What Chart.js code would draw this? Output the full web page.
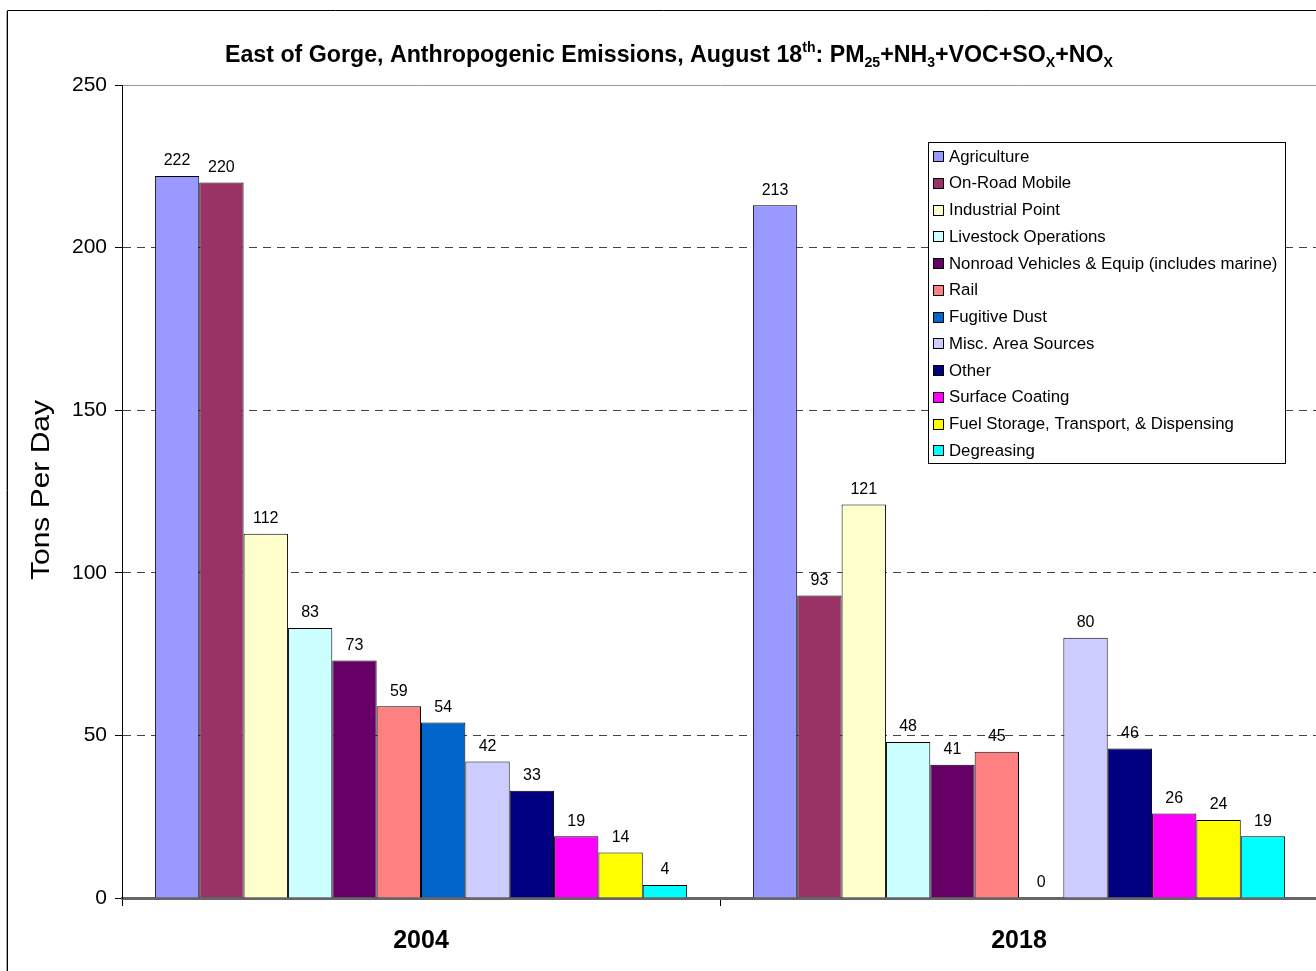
<!DOCTYPE html>
<html>
<head>
<meta charset="utf-8">
<title>East of Gorge, Anthropogenic Emissions</title>
<script src="https://cdn.jsdelivr.net/npm/chart.js@4/dist/chart.umd.min.js"></script>
<style>
  html, body { margin: 0; padding: 0; background: #fff; overflow: hidden; }
  #wrap { width: 1320px; height: 971px; position: relative; }
</style>
</head>
<body>
<div id="wrap"><canvas id="c" width="1320" height="971"></canvas></div>
<script>
// Years on the category axis
const categories = ['2004', '2018'];

// Emission source categories (one bar series each)
const sources = [
  'Agriculture',
  'On-Road Mobile',
  'Industrial Point',
  'Livestock Operations',
  'Nonroad Vehicles & Equip (includes marine)',
  'Rail',
  'Fugitive Dust',
  'Misc. Area Sources',
  'Other',
  'Surface Coating',
  'Fuel Storage, Transport, & Dispensing',
  'Degreasing'
];

// Tons per day, by source
const tons2004 = [222, 220, 112, 83, 73, 59, 54, 42, 33, 19, 14, 4];
const tons2018 = [213, 93, 121, 48, 41, 45, 0, 80, 46, 26, 24, 19];

const sourceColors = [
  '#9999FF', '#993366', '#FFFFCC', '#CCFFFF', '#660066', '#FF8080',
  '#0066CC', '#CCCCFF', '#000080', '#FF00FF', '#FFFF00', '#00FFFF'
];

const yTicks = [0, 50, 100, 150, 200, 250];
const yTitle = 'Tons Per Day';

const FONT = '"Liberation Sans", Arial, Helvetica, sans-serif';

const datasets = sources.map((name, i) => ({
  label: name,
  data: [tons2004[i], tons2018[i]],
  backgroundColor: sourceColors[i],
  borderColor: '#000',
  borderWidth: 1,
  borderSkipped: 'bottom',
  categoryPercentage: 0.89,
  barPercentage: 1.0
}));

// Frame, title (with sub/superscripts), axis title
const decorPlugin = {
  id: 'decor',
  beforeDraw(chart) {
    const ctx = chart.ctx;
    ctx.save();
    ctx.fillStyle = '#fff';
    ctx.fillRect(0, 0, chart.width, chart.height);
    ctx.strokeStyle = '#aaa';
    ctx.lineWidth = 1;
    ctx.beginPath();
    ctx.moveTo(6.5, 11); ctx.lineTo(6.5, chart.height);
    ctx.stroke();
    ctx.strokeStyle = '#000';
    ctx.beginPath();
    ctx.moveTo(7.5, chart.height); ctx.lineTo(7.5, 10.5); ctx.lineTo(chart.width, 10.5);
    ctx.stroke();
    ctx.restore();
  },
  afterDraw(chart) {
    const ctx = chart.ctx;
    ctx.save();
    // title
    const segs = [
      ['East of Gorge, Anthropogenic Emissions, August 18', 0],
      ['th', -1], [': PM', 0], ['25', 1], ['+NH', 0], ['3', 1],
      ['+VOC+SO', 0], ['X', 1], ['+NO', 0], ['X', 1]
    ];
    const big = 'bold 23px ' + FONT, small = 'bold 14px ' + FONT;
    let total = 0;
    segs.forEach(s => { ctx.font = s[1] ? small : big; total += ctx.measureText(s[0]).width; });
    const left = 225, right = 1113;
    const sx = (right - left) / total;
    ctx.translate(left, 62);
    ctx.scale(sx, 1);
    ctx.fillStyle = '#000';
    ctx.textBaseline = 'alphabetic';
    ctx.textAlign = 'left';
    let x = 0;
    segs.forEach(s => {
      ctx.font = s[1] ? small : big;
      const dy = s[1] === -1 ? -10 : (s[1] === 1 ? 5 : 0);
      ctx.fillText(s[0], x, dy);
      x += ctx.measureText(s[0]).width;
    });
    ctx.restore();

    // y axis title, rotated
    ctx.save();
    ctx.font = '25px ' + FONT;
    const w = ctx.measureText(yTitle).width;
    ctx.translate(42, 490);
    ctx.rotate(-Math.PI / 2);
    ctx.scale(180 / w, 1);
    ctx.textAlign = 'center';
    ctx.textBaseline = 'middle';
    ctx.fillStyle = '#000';
    ctx.fillText(yTitle, 0, 0);
    ctx.restore();
  }
};

// Value labels above each bar
const valueLabels = {
  id: 'valueLabels',
  afterDatasetsDraw(chart) {
    const ctx = chart.ctx;
    ctx.save();
    ctx.font = '16px ' + FONT;
    ctx.fillStyle = '#000';
    ctx.textAlign = 'center';
    ctx.textBaseline = 'middle';
    chart.data.datasets.forEach((ds, di) => {
      const meta = chart.getDatasetMeta(di);
      meta.data.forEach((bar, i) => {
        ctx.fillText(String(ds.data[i]), bar.x, bar.y - 15);
      });
    });
    ctx.restore();
  }
};

// Boxed legend inside the plot area
const boxLegend = {
  id: 'boxLegend',
  afterDraw(chart) {
    const ctx = chart.ctx;
    const bx = 928.5, by = 142.5, bw = 357, bh = 321;
    const rowH = 26.75, firstY = 156;
    ctx.save();
    ctx.fillStyle = '#fff';
    ctx.fillRect(bx, by, bw, bh);
    ctx.strokeStyle = '#000';
    ctx.lineWidth = 1;
    ctx.strokeRect(bx, by, bw, bh);
    ctx.font = '16.8px ' + FONT;
    ctx.textBaseline = 'middle';
    ctx.textAlign = 'left';
    chart.data.datasets.forEach((ds, i) => {
      const cy = firstY + i * rowH;
      ctx.fillStyle = ds.backgroundColor;
      ctx.fillRect(933.5, Math.round(cy - 5) + 0.5, 10, 10);
      ctx.strokeStyle = '#000';
      ctx.strokeRect(933.5, Math.round(cy - 5) + 0.5, 10, 10);
      ctx.fillStyle = '#000';
      ctx.fillText(ds.label, 949, cy + 1);
    });
    ctx.restore();
  }
};

new Chart(document.getElementById('c'), {
  type: 'bar',
  data: { labels: categories, datasets },
  plugins: [decorPlugin, valueLabels, boxLegend],
  options: {
    responsive: false,
    animation: false,
    devicePixelRatio: 1,
    layout: { padding: { left: 0, top: 85, right: 2, bottom: 0 } },
    plugins: {
      legend: { display: false },
      title: { display: false },
      tooltip: { enabled: false }
    },
    scales: {
      x: {
        offset: true,
        grid: {
          offset: true,
          drawOnChartArea: false,
          drawTicks: true,
          tickLength: 8,
          tickColor: '#000',
          color: '#000'
        },
        border: { display: true, color: '#666', width: 3 },
        ticks: {
          color: '#000',
          padding: 20,
          font: { family: FONT, size: 25, weight: 'bold' }
        },
        afterFit(scale) { scale.height = 73; }
      },
      y: {
        min: 0,
        max: 250,
        afterBuildTicks(scale) { scale.ticks = yTicks.map(v => ({ value: v })); },
        ticks: {
          color: '#000',
          padding: 8,
          font: { family: FONT, size: 21 }
        },
        grid: {
          drawTicks: true,
          tickLength: 7,
          tickColor: '#000',
          lineWidth: 1,
          color(ctx) {
            if (!ctx.tick) return '#000';
            if (ctx.tick.value === 0) return 'rgba(0,0,0,0)';
            if (ctx.tick.value === 250) return '#999';
            return '#444';
          }
        },
        border: {
          display: true,
          color: '#000',
          width: 1,
          dash(ctx) {
            if (!ctx.tick) return [];
            if (ctx.tick.value === 250 || ctx.tick.value === 0) return [];
            return [8, 6];
          }
        },
        afterFit(scale) { scale.width = 122; }
      }
    }
  }
});
</script>
</body>
</html>
